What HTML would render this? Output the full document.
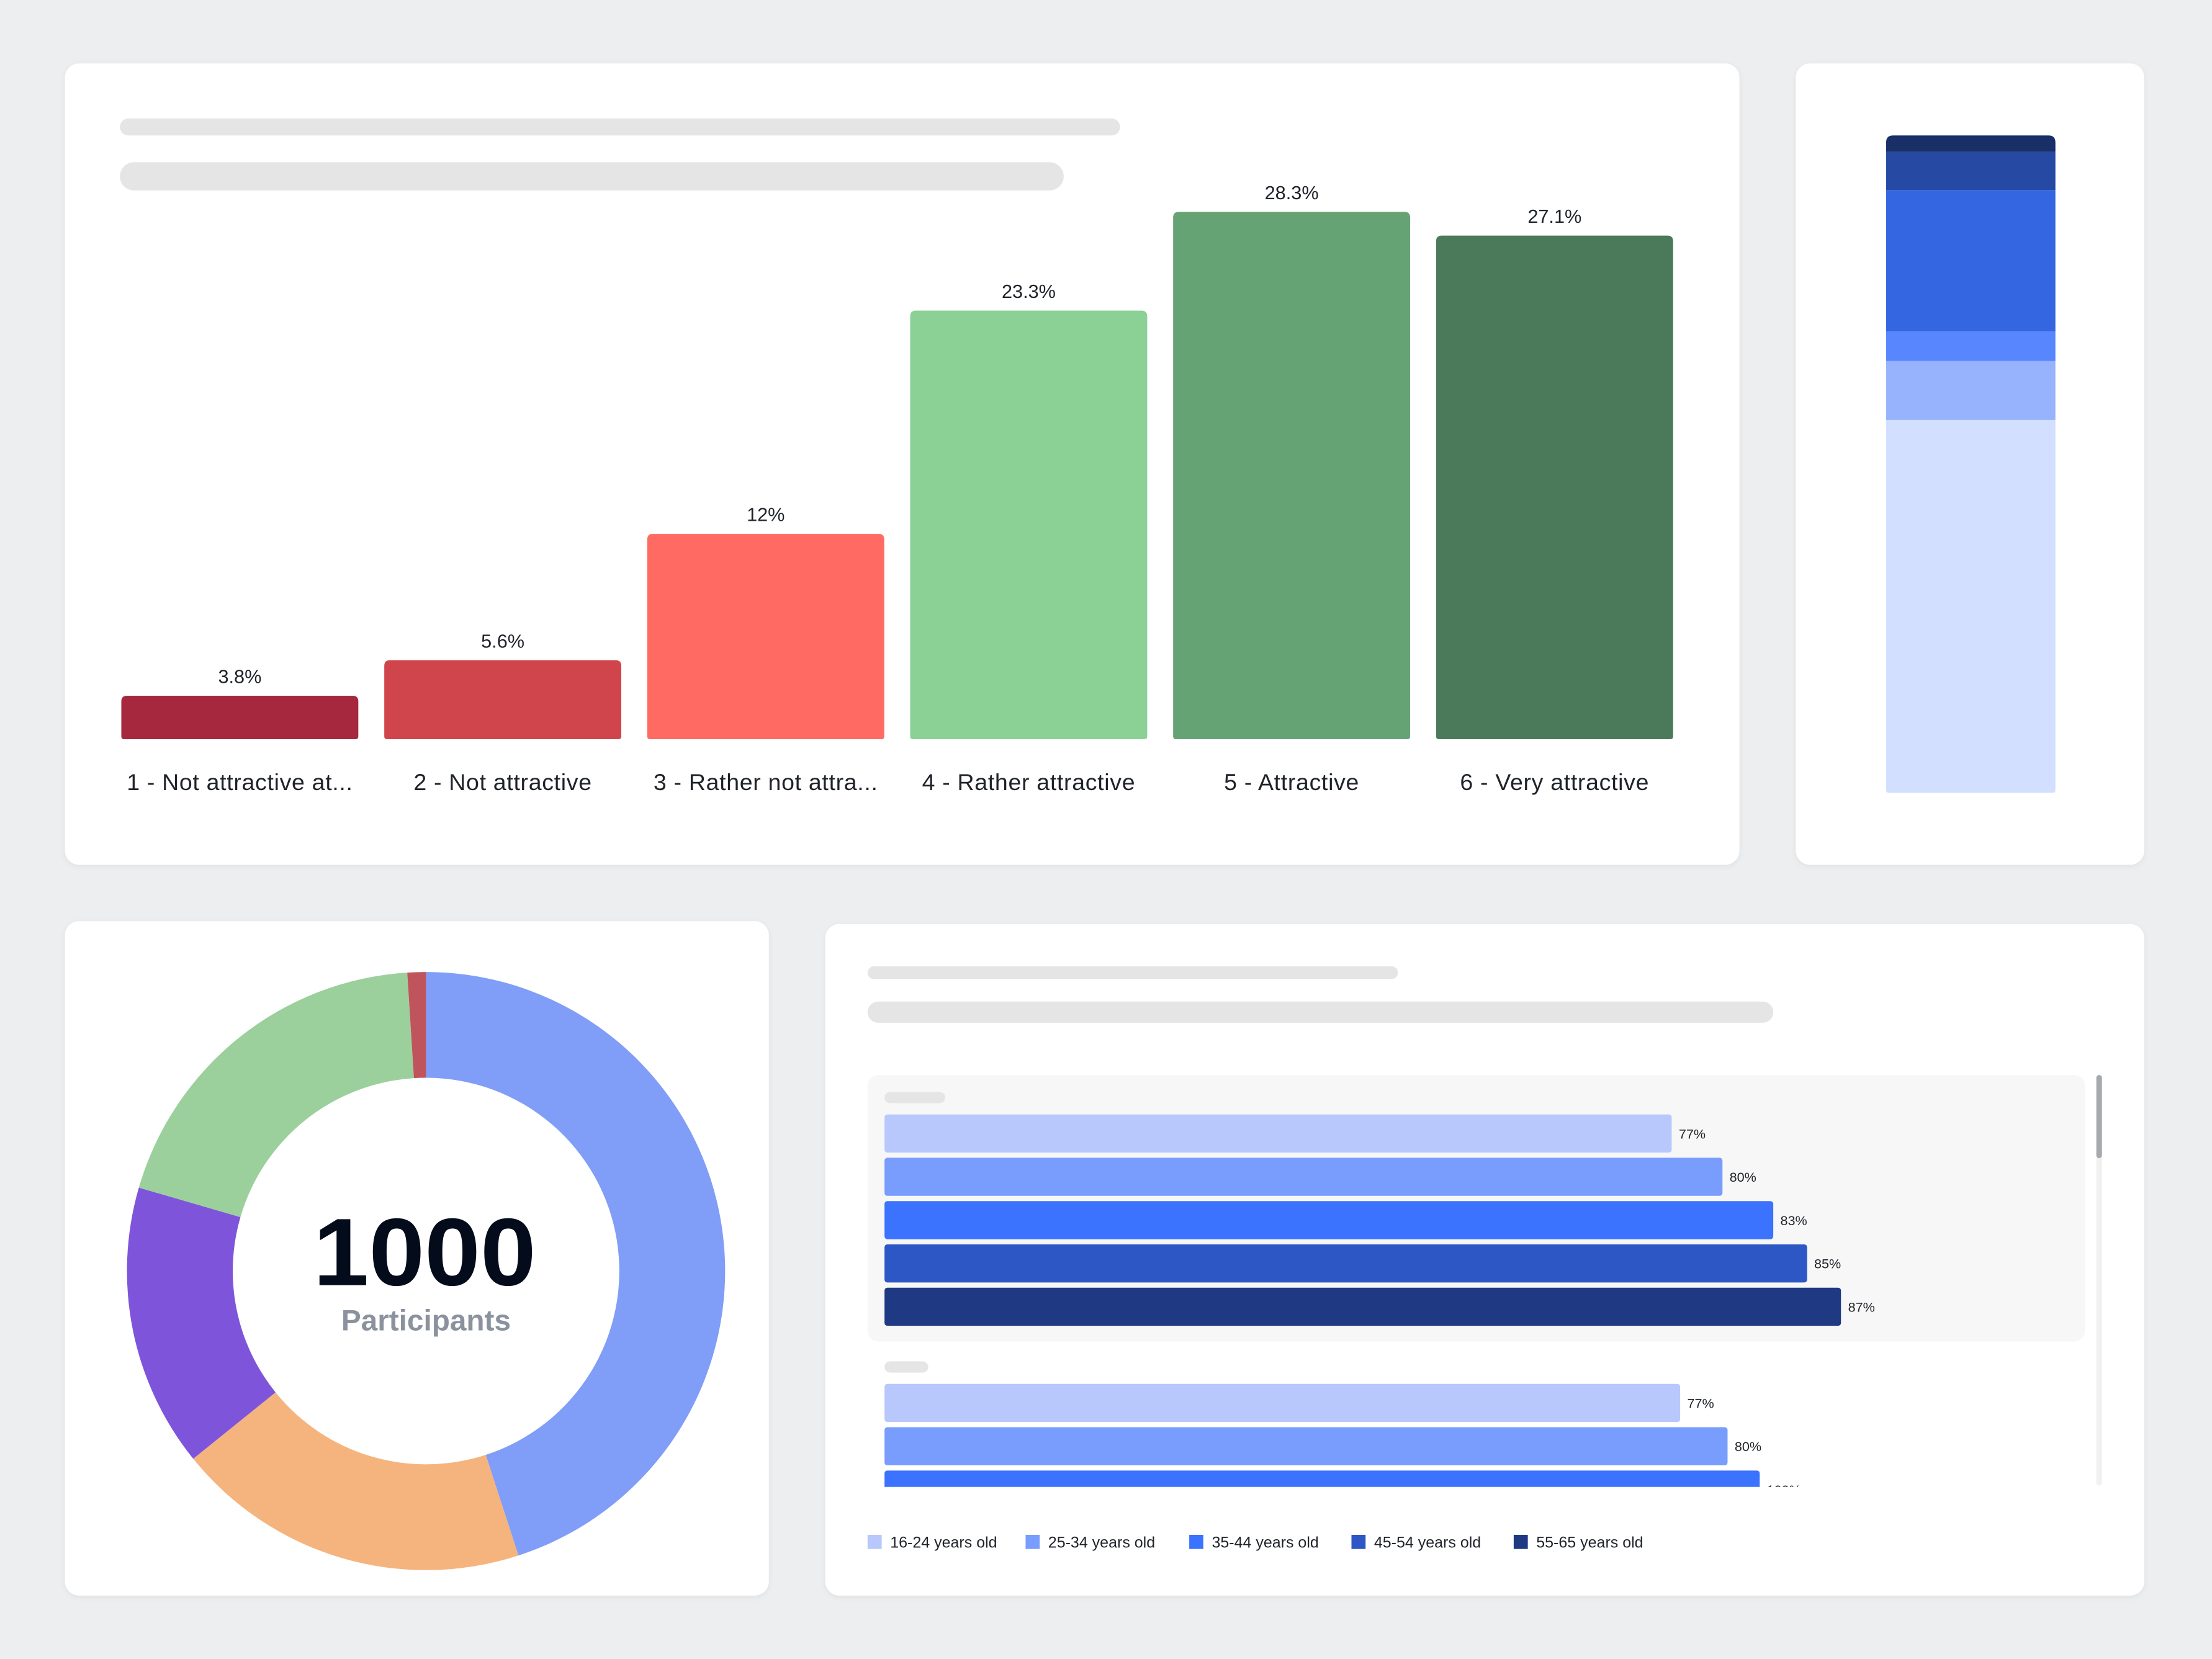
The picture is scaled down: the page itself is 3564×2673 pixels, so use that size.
<!DOCTYPE html>
<html><head><meta charset="utf-8">
<style>
html,body{margin:0;padding:0;background:#edeef0;}
svg{display:block;font-family:"Liberation Sans",sans-serif;}
</style></head>
<body>
<svg id="root" width="3564" height="2673" viewBox="0 0 1568 1176" xmlns="http://www.w3.org/2000/svg">
<rect x="0" y="0" width="1568" height="1176" fill="#edeef0"/>
<defs>
<filter id="sh" x="-5%" y="-5%" width="110%" height="110%"><feDropShadow dx="0" dy="1" stdDeviation="2" flood-color="#000" flood-opacity="0.06"/></filter>
<clipPath id="hclip"><rect x="600" y="755" width="884" height="299"/></clipPath>
</defs>
<rect x="46" y="45" width="1187" height="568" rx="10" fill="#fff" filter="url(#sh)"/>
<rect x="1273" y="45" width="247" height="568" rx="10" fill="#fff" filter="url(#sh)"/>
<rect x="46" y="653" width="499" height="478" rx="10" fill="#fff" filter="url(#sh)"/>
<rect x="585" y="655" width="935" height="476" rx="10" fill="#fff" filter="url(#sh)"/>
<rect x="85" y="84" width="709" height="12" rx="6" fill="#e5e5e5"/>
<rect x="85" y="115" width="669" height="20" rx="10" fill="#e5e5e5"/>
<rect x="615" y="685" width="376" height="9" rx="4.5" fill="#e5e5e5"/>
<rect x="615" y="710" width="642" height="15" rx="7.5" fill="#e5e5e5"/>
<rect x="615" y="762" width="863" height="189" rx="8" fill="#f7f7f7"/>
<rect x="627" y="774" width="43" height="8" rx="4" fill="#e5e5e5"/>
<rect x="627" y="965" width="31" height="8" rx="4" fill="#e5e5e5"/>
<rect x="1486" y="762" width="4" height="291" rx="2" fill="#f1f1f1"/>
<rect x="1486" y="762" width="4" height="59" rx="2" fill="#a6a9ae"/>
<g id="bars"></g>
<g id="stack"></g>
<g id="donut"></g>
<text x="301" y="911" text-anchor="middle" font-size="68" font-weight="700" fill="#040c1c" textLength="158" lengthAdjust="spacingAndGlyphs">1000</text>
<text x="302" y="943" text-anchor="middle" font-size="21" font-weight="700" fill="#8a929e">Participants</text>
<g id="hbars" clip-path="url(#hclip)"></g>
<g id="legend"></g>
</svg>
<script>
const NS='http://www.w3.org/2000/svg';
function mk(tag,attrs,parent,txt){const e=document.createElementNS(NS,tag);for(const k in attrs)e.setAttribute(k,attrs[k]);if(txt!==undefined)e.textContent=txt;parent.appendChild(e);return e;}

// Bar chart data
const barCategories=['1 - Not attractive at...','2 - Not attractive','3 - Rather not attra...','4 - Rather attractive','5 - Attractive','6 - Very attractive'];
const barValues=[3.8,5.6,12,23.3,28.3,27.1];
const barLabels=['3.8%','5.6%','12%','23.3%','28.3%','27.1%'];
const barColors=['#a5283e','#d0454c','#ff6b63','#8bd196','#66a374','#4b7a5b'];

// Stacked bar data (bottom to top)
const stackValues=[56.7,9.0,4.5,21.5,5.8,2.5];
const stackColors=['#d3dffe','#97b3fe','#5886ff','#3366e0','#264aa3','#182f68'];

// Donut data (clockwise from top)
const donutValues=[45,19.2,15.3,19.5,1.0];
const donutColors=['#809df7','#f5b47e','#7e55da','#9bd09d','#c0545c'];

// Grouped horizontal bars
const ageGroups=['16-24 years old','25-34 years old','35-44 years old','45-54 years old','55-65 years old'];
const ageColors=['#b8c8fd','#789dfd','#3b72fe','#2d57c4','#1f3a83'];
const group1Values=[77,80,83,85,87];
const group1Labels=['77%','80%','83%','85%','87%'];
const group2Values=[77.5,80.3,82.2];
const group2Labels=['77%','80%','100%'];

// Bar chart
const bx0=86,bstep=186.4,bw=168,base=524;
function yH(v){return (v-1.6)*14.0;}
const gb=document.getElementById('bars');
barValues.forEach((v,i)=>{
  const x=bx0+i*bstep,h=yH(v);
  const r=mk('path',{d:`M${x},${base}V${base-h+4}Q${x},${base-h} ${x+4},${base-h}H${x+bw-4}Q${x+bw},${base-h} ${x+bw},${base-h+4}V${base-2}Q${x+bw},${base} ${x+bw-2},${base}H${x+2}Q${x},${base} ${x},${base-2}Z`,fill:barColors[i]},gb);
  
  
  const t=mk('text',{x:x+bw/2,y:base-h-9,'text-anchor':'middle','font-size':13.5,fill:'#1f2329'},gb,barLabels[i]);
  
  
  const c=mk('text',{x:x+bw/2,y:560,'text-anchor':'middle','font-size':16.5,fill:'#1f2329','letter-spacing':0.3},gb,barCategories[i]);
  
  
});

// Stacked bar
const gs=document.getElementById('stack');
const sx=1337,sw=120,sBottom=562,sTop=96;
const sTot=stackValues.reduce((a,b)=>a+b,0);
let cy=sBottom;
stackValues.forEach((v,i)=>{
  const h=v/sTot*(sBottom-sTop);
  const top=cy-h;
  let d;
  if(i===stackValues.length-1){d=`M${sx},${cy}V${top+5}Q${sx},${top} ${sx+5},${top}H${sx+sw-5}Q${sx+sw},${top} ${sx+sw},${top+5}V${cy}Z`;}
  else if(i===0){d=`M${sx},${top}H${sx+sw}V${cy-2}Q${sx+sw},${cy} ${sx+sw-2},${cy}H${sx+2}Q${sx},${cy} ${sx},${cy-2}Z`;}
  else d=`M${sx},${top}H${sx+sw}V${cy}H${sx}Z`;
  const p=mk('path',{d:d,fill:stackColors[i]},gs);
  
  
  cy=top;
});

// Donut
const gd=document.getElementById('donut');
const cx=302,cyc=901,R=212,r0=137;
const dTot=donutValues.reduce((a,b)=>a+b,0);
let a0=0;
function pt(rad,ang){const t=(ang-90)*Math.PI/180;return [cx+rad*Math.cos(t),cyc+rad*Math.sin(t)];}
donutValues.forEach((v,i)=>{
  const a1=a0+v/dTot*360;
  const large=(a1-a0)>180?1:0;
  const p1=pt(R,a0),p2=pt(R,a1),p3=pt(r0,a1),p4=pt(r0,a0);
  const p=mk('path',{d:`M${p1[0]},${p1[1]}A${R},${R} 0 ${large} 1 ${p2[0]},${p2[1]}L${p3[0]},${p3[1]}A${r0},${r0} 0 ${large} 0 ${p4[0]},${p4[1]}Z`,fill:donutColors[i]},gd);
  
  
  a0=a1;
});

// Horizontal bars
const gh=document.getElementById('hbars');
function xW(v){return (v-30.5)*12;}
const hx=627,hh=27,hstep=30.7;
function drawGroup(vals,labels,y0,g){
  vals.forEach((v,i)=>{
    const y=y0+i*hstep,w=xW(v);
    const r=mk('rect',{x:hx,y:y,width:w,height:hh,rx:2,fill:ageColors[i]},gh);
    
    
    const t=mk('text',{x:hx+w+5,y:y+hh/2+3.5,'font-size':9.5,fill:'#1f2329'},gh,labels[i]);
    
    
  });
}
drawGroup(group1Values,group1Labels,790,1);
drawGroup(group2Values,group2Labels,981,2);

// Legend
const gl=document.getElementById('legend');
const lx=[615,727,843,958,1073];
ageGroups.forEach((g,i)=>{
  const s=mk('rect',{x:lx[i],y:1088,width:10,height:10,fill:ageColors[i]},gl);
  
  
  const t=mk('text',{x:lx[i]+16,y:1097,'font-size':11,fill:'#1f2329'},gl,g);
  
  
});
</script>
</body></html>
